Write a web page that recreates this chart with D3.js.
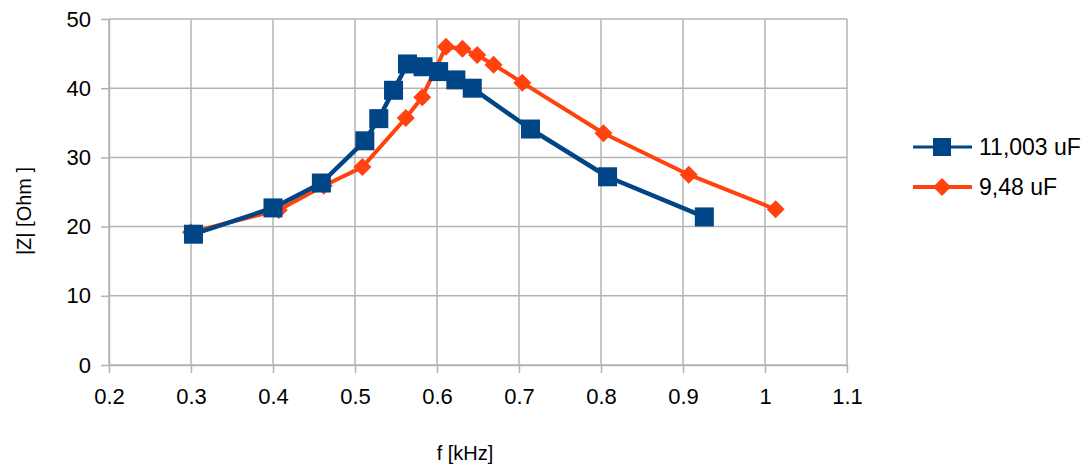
<!DOCTYPE html>
<html>
<head>
<meta charset="utf-8">
<script src="https://cdn.jsdelivr.net/npm/d3@7"></script>
<style>
  body { margin: 0; background: #fff; }
  svg text { font-family: "Liberation Sans", Arial, sans-serif; fill: #000; }
</style>
</head>
<body>
<div id="content"></div>
<script>
// 11,003 uF series
const BLUE_F = [0.303, 0.400, 0.459, 0.512, 0.529, 0.547, 0.564, 0.583, 0.602, 0.623, 0.643, 0.714, 0.808, 0.926];
const BLUE_Z = [18.9, 22.7, 26.3, 32.4, 35.6, 39.7, 43.5, 43.1, 42.4, 41.2, 40.0, 34.1, 27.2, 21.4];
// 9,48 uF series
const ORANGE_F = [0.300, 0.407, 0.462, 0.509, 0.562, 0.582, 0.611, 0.631, 0.649, 0.669, 0.704, 0.803, 0.907, 1.013];
const ORANGE_Z = [19.2, 22.4, 25.9, 28.6, 35.7, 38.7, 46.0, 45.7, 44.8, 43.4, 40.8, 33.5, 27.5, 22.5];

const X_TICKS = [0.2, 0.3, 0.4, 0.5, 0.6, 0.7, 0.8, 0.9, 1, 1.1];
const Y_TICKS = [0, 10, 20, 30, 40, 50];
const SERIES_NAMES = ['11,003 uF', '9,48 uF'];
const COLORS = ['#004586', '#ff420e'];

var width = 1091;
var height = 467;
var plotLeft = 109, plotRight = 847, plotTop = 19, plotBottom = 365;

var DIAMOND = 'M0,-9L9,0L0,9L-9,0Z';

var svg = d3.select('#content')
  .append('svg')
  .attr('width', width)
  .attr('height', height);

var x = d3.scaleLinear().domain([0.2, 1.1]).range([plotLeft, plotRight]);
var y = d3.scaleLinear().domain([0, 50]).range([plotBottom, plotTop]);

// grid
svg.append('g')
  .selectAll('line')
  .data(X_TICKS)
  .enter()
  .append('line')
  .attr('x1', d => x(d)).attr('x2', d => x(d))
  .attr('y1', plotTop).attr('y2', plotBottom)
  .attr('stroke', '#b3b3b3').attr('stroke-width', 1.5);

svg.append('g')
  .selectAll('line')
  .data(Y_TICKS)
  .enter()
  .append('line')
  .attr('x1', plotLeft).attr('x2', plotRight)
  .attr('y1', d => y(d)).attr('y2', d => y(d))
  .attr('stroke', '#b3b3b3').attr('stroke-width', 1.5);

// axes
var xAxis = d3.axisBottom(x)
  .tickValues(X_TICKS)
  .tickFormat(d3.format('~g'))
  .tickSizeInner(8)
  .tickSizeOuter(0)
  .tickPadding(15);

var yAxis = d3.axisLeft(y)
  .tickValues(Y_TICKS)
  .tickSizeInner(8)
  .tickSizeOuter(0)
  .tickPadding(10);

var gx = svg.append('g')
  .attr('transform', 'translate(0,' + plotBottom + ')')
  .call(xAxis);
var gy = svg.append('g')
  .attr('transform', 'translate(' + plotLeft + ',0)')
  .call(yAxis);

[gx, gy].forEach(function (g) {
  g.select('.domain').attr('stroke', '#b3b3b3').attr('stroke-width', 1.5);
  g.selectAll('.tick line').attr('stroke', '#b3b3b3').attr('stroke-width', 1.5);
  g.selectAll('.tick text')
    .attr('font-family', '"Liberation Sans", Arial, sans-serif')
    .attr('font-size', 22)
    .attr('fill', '#000');
});

// axis titles
svg.append('text')
  .attr('x', 465)
  .attr('y', 460)
  .attr('text-anchor', 'middle')
  .attr('font-size', 20)
  .text('f [kHz]');

svg.append('text')
  .attr('transform', 'translate(31,211) rotate(-90)')
  .attr('text-anchor', 'middle')
  .attr('font-size', 20)
  .text('|Z| [Ohm ]');

var line = d3.line()
  .x(d => x(d[0]))
  .y(d => y(d[1]));

var blue = d3.zip(BLUE_F, BLUE_Z);
var orange = d3.zip(ORANGE_F, ORANGE_Z);

// orange series (drawn first, behind)
svg.append('path')
  .datum(orange)
  .attr('d', line)
  .attr('fill', 'none')
  .attr('stroke', COLORS[1])
  .attr('stroke-width', 4)
  .attr('stroke-linejoin', 'round');

svg.append('g')
  .selectAll('path')
  .data(orange)
  .enter()
  .append('path')
  .attr('d', DIAMOND)
  .attr('transform', d => 'translate(' + x(d[0]) + ',' + y(d[1]) + ')')
  .attr('fill', COLORS[1]);

// blue series
svg.append('path')
  .datum(blue)
  .attr('d', line)
  .attr('fill', 'none')
  .attr('stroke', COLORS[0])
  .attr('stroke-width', 4.5)
  .attr('stroke-linejoin', 'round');

svg.append('g')
  .selectAll('rect')
  .data(blue)
  .enter()
  .append('rect')
  .attr('x', d => x(d[0]) - 9.5)
  .attr('y', d => y(d[1]) - 9.5)
  .attr('width', 19)
  .attr('height', 19)
  .attr('fill', COLORS[0]);

// legend
var legend = svg.append('g');
var legendY = [147, 187];

legend.selectAll('line')
  .data(SERIES_NAMES)
  .enter()
  .append('line')
  .attr('x1', 913).attr('x2', 972)
  .attr('y1', (d, i) => legendY[i]).attr('y2', (d, i) => legendY[i])
  .attr('stroke', (d, i) => COLORS[i])
  .attr('stroke-width', (d, i) => i === 0 ? 3 : 4);

legend.append('rect')
  .attr('x', 942 - 9).attr('y', legendY[0] - 9)
  .attr('width', 18).attr('height', 18)
  .attr('fill', COLORS[0]);

legend.append('path')
  .attr('d', DIAMOND)
  .attr('transform', 'translate(942,' + legendY[1] + ')')
  .attr('fill', COLORS[1]);

legend.selectAll('text')
  .data(SERIES_NAMES)
  .enter()
  .append('text')
  .attr('x', 979)
  .attr('y', (d, i) => legendY[i] + 8)
  .attr('font-size', 23)
  .text(d => d);
</script>
</body>
</html>
